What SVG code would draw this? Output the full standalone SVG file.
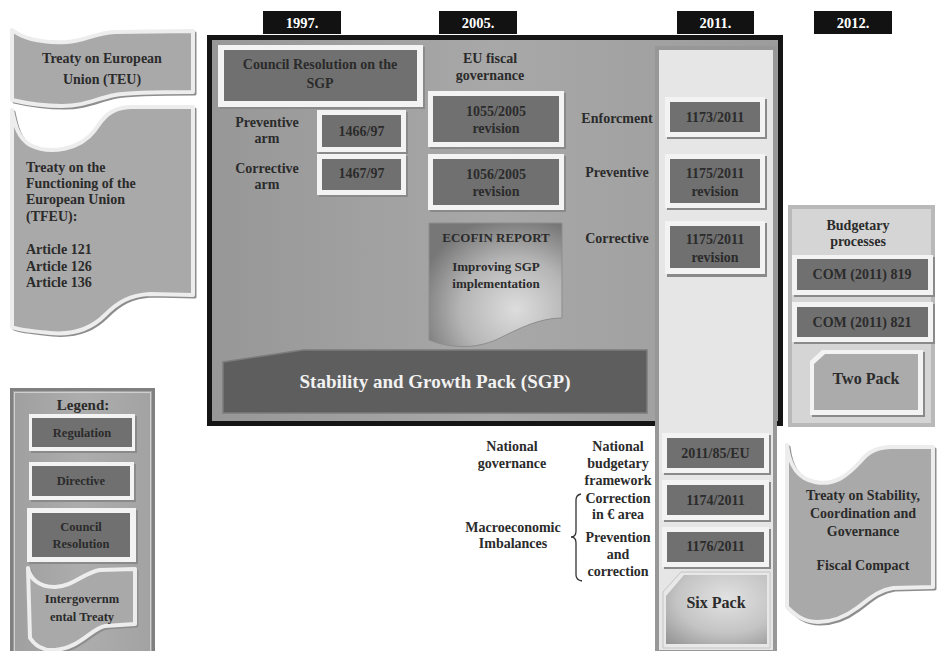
<svg xmlns="http://www.w3.org/2000/svg" width="937" height="651" viewBox="0 0 937 651">
<defs>
<style>
.t{font-family:"Liberation Serif","Times New Roman",serif;font-weight:bold;font-size:14px;fill:#2b2b2b;text-anchor:middle}
.tl{text-anchor:start}
.s13{font-size:13px}
.s12{font-size:12.5px}
.s16{font-size:16px}
.yr{font-family:"Liberation Serif","Times New Roman",serif;font-weight:bold;font-size:14.5px;fill:#ffffff;text-anchor:middle}
.yb{fill:#121212}
.sh{fill:#8a8a8a}
.wb{fill:#f3f3f3}
.in{fill:#707070}
.ban{fill:#a9a9a9;stroke:#ededed;stroke-width:4;stroke-linejoin:round}
.bansh{fill:none;stroke:#8e8e8e;stroke-width:3;stroke-linejoin:round}
</style>
<linearGradient id="gFrame" x1="0" y1="0" x2="1" y2="0">
<stop offset="0" stop-color="#979797"/>
<stop offset="0.5" stop-color="#a8a8a8"/>
<stop offset="1" stop-color="#9c9c9c"/>
</linearGradient>
<radialGradient id="gDoc" cx="0.65" cy="0.7" r="0.75">
<stop offset="0" stop-color="#dddddd"/>
<stop offset="0.55" stop-color="#b5b5b5"/>
<stop offset="1" stop-color="#777777"/>
</radialGradient>
<radialGradient id="gSix" cx="0.6" cy="0.35" r="0.9">
<stop offset="0" stop-color="#e2e2e2"/>
<stop offset="0.55" stop-color="#c4c4c4"/>
<stop offset="1" stop-color="#8f8f8f"/>
</radialGradient>
<linearGradient id="gLeg" x1="0" y1="0" x2="1" y2="0">
<stop offset="0" stop-color="#9f9f9f"/>
<stop offset="0.5" stop-color="#adadad"/>
<stop offset="1" stop-color="#a2a2a2"/>
</linearGradient>
</defs>
<rect width="937" height="651" fill="#ffffff"/>

<!-- year labels -->
<g id="year-1997"><rect class="yb" x="263" y="11" width="78" height="23"/><text class="yr" x="302" y="28">1997.</text></g>
<g id="year-2005"><rect class="yb" x="439" y="11" width="78" height="23"/><text class="yr" x="478" y="28">2005.</text></g>
<g id="year-2011"><rect class="yb" x="677" y="11" width="77" height="23"/><text class="yr" x="715.5" y="28">2011.</text></g>
<g id="year-2012"><rect class="yb" x="814" y="11" width="78" height="23"/><text class="yr" x="853" y="28">2012.</text></g>

<!-- left treaties -->
<g id="teu">
<path class="bansh" transform="translate(2,2)" d="M12,30 C25,40 45,43 67,42 C85,41 95,33 115,32 L193,31 L193,92 C170,92 130,92 115,95 C95,99 85,106 62,106 C40,106 25,103 12,100 Z"/>
<path class="ban" d="M12,30 C25,40 45,43 67,42 C85,41 95,33 115,32 L193,31 L193,92 C170,92 130,92 115,95 C95,99 85,106 62,106 C40,106 25,103 12,100 Z"/>
<text class="t" x="102" y="63">Treaty on European</text>
<text class="t" x="102" y="84">Union (TEU)</text>
</g>
<g id="tfeu">
<path class="bansh" transform="translate(2,2)" d="M12,110 C15,125 18,138 30,145 C50,155 80,150 95,130 C103,118 110,108 130,107 L193,107 L193,295 L150,294 C130,295 118,302 105,315 C90,330 70,335 50,333 C30,331 18,330 12,327 Z"/>
<path class="ban" d="M12,110 C15,125 18,138 30,145 C50,155 80,150 95,130 C103,118 110,108 130,107 L193,107 L193,295 L150,294 C130,295 118,302 105,315 C90,330 70,335 50,333 C30,331 18,330 12,327 Z"/>
<text class="t tl" x="26" y="172">Treaty on the</text>
<text class="t tl" x="26" y="188">Functioning of the</text>
<text class="t tl" x="26" y="204">European Union</text>
<text class="t tl" x="26" y="221">(TFEU):</text>
<text class="t tl" x="26" y="254">Article 121</text>
<text class="t tl" x="26" y="271">Article 126</text>
<text class="t tl" x="26" y="287">Article 136</text>
</g>

<!-- main frame -->
<g id="sgp-frame">
<rect x="209.5" y="37.5" width="571" height="386" fill="url(#gFrame)" stroke="#151515" stroke-width="5"/>
</g>

<!-- 2011 column -->
<g id="col-2011">
<rect x="657" y="48" width="118" height="604" fill="#e6e6e6" stroke="#979797" stroke-width="4"/>
</g>

<g id="council-resolution">
<rect class="sh" x="220" y="47" width="205" height="62"/>
<rect class="wb" x="218" y="45" width="205" height="62"/>
<rect class="in" x="224" y="50" width="193" height="51"/>
<text class="t" x="320" y="69">Council Resolution on the</text>
<text class="t" x="320" y="88">SGP</text>
</g>

<g id="lbl-preventive-arm"><text class="t" x="267" y="127">Preventive</text><text class="t" x="267" y="143">arm</text></g>
<g id="lbl-corrective-arm"><text class="t" x="267" y="173">Corrective</text><text class="t" x="267" y="189">arm</text></g>

<g id="r1466">
<rect class="sh" x="319" y="112" width="89" height="42"/>
<rect class="wb" x="317" y="110" width="89" height="42"/>
<rect class="in" x="322" y="115" width="79" height="32"/>
<text class="t" x="361.5" y="136">1466/97</text>
</g>
<g id="r1467">
<rect class="sh" x="319" y="156" width="89" height="41"/>
<rect class="wb" x="317" y="154" width="89" height="41"/>
<rect class="in" x="322" y="159" width="79" height="31"/>
<text class="t" x="361.5" y="178">1467/97</text>
</g>

<g id="lbl-eu-fiscal"><text class="t" x="490" y="63">EU fiscal</text><text class="t" x="490" y="80">governance</text></g>

<g id="r1055">
<rect class="sh" x="430" y="93" width="136" height="56"/>
<rect class="wb" x="428" y="91" width="136" height="56"/>
<rect class="in" x="433" y="96" width="126" height="46"/>
<text class="t" x="496" y="116">1055/2005</text>
<text class="t" x="496" y="133">revision</text>
</g>
<g id="r1056">
<rect class="sh" x="430" y="156" width="136" height="56"/>
<rect class="wb" x="428" y="154" width="136" height="56"/>
<rect class="in" x="433" y="159" width="126" height="46"/>
<text class="t" x="496" y="179">1056/2005</text>
<text class="t" x="496" y="196">revision</text>
</g>

<g id="ecofin">
<path d="M429,223 H562 V318 C540,318 520,328 500,338 C480,348 455,350 429,340 Z" fill="url(#gDoc)" stroke="#8d8d8d" stroke-width="1"/>
<text class="t s13" x="496" y="242">ECOFIN REPORT</text>
<text class="t s13" x="496" y="271">Improving SGP</text>
<text class="t s13" x="496" y="288">implementation</text>
</g>

<g id="sgp">
<path d="M223,362 L303,350 L647,350 L647,413 L223,413 Z" fill="#5e5e5e" stroke="#7c7c7c" stroke-width="1.5"/>
<text class="t" x="435" y="388" style="font-size:19px;fill:#f2f2f2">Stability and Growth Pack (SGP)</text>
</g>

<g id="lbl-enforcment"><text class="t" x="617" y="123">Enforcment</text></g>
<g id="lbl-preventive"><text class="t" x="617" y="177">Preventive</text></g>
<g id="lbl-corrective"><text class="t" x="617" y="243">Corrective</text></g>

<g id="r1173">
<rect class="sh" x="667" y="99" width="100" height="40"/>
<rect class="wb" x="665" y="97" width="100" height="40"/>
<rect class="in" x="670" y="102" width="90" height="30"/>
<text class="t" x="715" y="122">1173/2011</text>
</g>
<g id="r1175-prev">
<rect class="sh" x="667" y="156" width="100" height="54"/>
<rect class="wb" x="665" y="154" width="100" height="54"/>
<rect class="in" x="670" y="159" width="90" height="44"/>
<text class="t" x="715" y="178">1175/2011</text>
<text class="t" x="715" y="196">revision</text>
</g>
<g id="r1175-corr">
<rect class="sh" x="667" y="223" width="100" height="54"/>
<rect class="wb" x="665" y="221" width="100" height="53"/>
<rect class="in" x="670" y="226" width="90" height="42"/>
<text class="t" x="715" y="244">1175/2011</text>
<text class="t" x="715" y="262">revision</text>
</g>

<!-- budgetary processes / two pack -->
<g id="budgetary-panel">
<rect x="790" y="207" width="143" height="218" fill="#d5d5d5" stroke="#b9b9b9" stroke-width="4"/>
<text class="t" x="858" y="230">Budgetary</text>
<text class="t" x="858" y="246">processes</text>
</g>
<g id="com819">
<rect class="sh" x="794" y="257" width="141" height="40"/>
<rect class="wb" x="792" y="255" width="141" height="40"/>
<rect class="in" x="797" y="259" width="131" height="31"/>
<text class="t" x="862" y="279">COM (2011) 819</text>
</g>
<g id="com821">
<rect class="sh" x="794" y="304" width="141" height="40"/>
<rect class="wb" x="792" y="302" width="141" height="40"/>
<rect class="in" x="797" y="307" width="131" height="30"/>
<text class="t" x="862" y="327">COM (2011) 821</text>
</g>
<g id="two-pack">
<path class="sh" transform="translate(2,2)" d="M822,350 H923 V415 H810 V361 Z"/>
<path class="wb" d="M822,350 H923 V415 H810 V361 Z"/>
<path d="M825,354 H918 V410 H814 V364 Z" fill="#ababab"/>
<text class="t s16" x="866" y="384">Two Pack</text>
</g>

<!-- below the frame -->
<g id="lbl-national-gov"><text class="t" x="512" y="451">National</text><text class="t" x="512" y="468">governance</text></g>
<g id="lbl-national-budget"><text class="t" x="618" y="451">National</text><text class="t" x="618" y="468">budgetary</text><text class="t" x="618" y="485">framework</text></g>
<g id="lbl-correction"><text class="t" x="618" y="503">Correction</text><text class="t" x="618" y="519">in € area</text></g>
<g id="lbl-prevention"><text class="t" x="618" y="542">Prevention</text><text class="t" x="618" y="559">and</text><text class="t" x="618" y="576">correction</text></g>
<g id="lbl-macro"><text class="t" x="513" y="532">Macroeconomic</text><text class="t" x="513" y="548">Imbalances</text></g>

<g id="connectors">
<path d="M581,494 Q576,495 576,500 V531 Q576,537 571,537 Q576,537 576,543 V575 Q576,580 582,581" fill="none" stroke="#333333" stroke-width="1.3"/>
</g>

<g id="d2011-85">
<rect class="sh" x="664" y="435" width="107" height="40"/>
<rect class="wb" x="662" y="433" width="107" height="40"/>
<rect class="in" x="667" y="438" width="97" height="30"/>
<text class="t" x="715.5" y="458">2011/85/EU</text>
</g>
<g id="r1174">
<rect class="sh" x="664" y="482" width="107" height="40"/>
<rect class="wb" x="662" y="480" width="107" height="40"/>
<rect class="in" x="667" y="485" width="97" height="30"/>
<text class="t" x="715.5" y="505">1174/2011</text>
</g>
<g id="r1176">
<rect class="sh" x="664" y="529" width="107" height="40"/>
<rect class="wb" x="662" y="527" width="107" height="40"/>
<rect class="in" x="667" y="532" width="97" height="30"/>
<text class="t" x="715.5" y="551">1176/2011</text>
</g>
<g id="six-pack">
<path d="M681,572 H770 V648 H663 V592 Z" fill="#e8e8e8" stroke="#c4c4c4" stroke-width="1"/>
<path d="M684,575 H767 V644 H666 V596 Z" fill="url(#gSix)"/>
<text class="t s16" x="716" y="608">Six Pack</text>
</g>

<g id="tscg">
<path class="bansh" transform="translate(2,2)" d="M787,445 C789,462 795,478 815,482 C835,486 848,475 860,462 C868,452 875,448 890,447 L933,447 L933,587 L893,588 C878,590 868,600 857,608 C845,617 832,622 818,622 C803,622 794,614 787,607 Z"/>
<path class="ban" d="M787,445 C789,462 795,478 815,482 C835,486 848,475 860,462 C868,452 875,448 890,447 L933,447 L933,587 L893,588 C878,590 868,600 857,608 C845,617 832,622 818,622 C803,622 794,614 787,607 Z"/>
<text class="t" x="863" y="500">Treaty on Stability,</text>
<text class="t" x="863" y="518">Coordination and</text>
<text class="t" x="863" y="536">Governance</text>
<text class="t" x="863" y="570">Fiscal Compact</text>
</g>

<!-- legend -->
<g id="legend">
<rect x="11.5" y="389.5" width="142" height="264" fill="url(#gLeg)" stroke="#808080" stroke-width="3"/>
<rect x="14.5" y="392.5" width="136" height="260" fill="none" stroke="#cfcfcf" stroke-width="1"/>
<text class="t" x="83" y="410" style="font-size:15px">Legend:</text>
</g>
<g id="legend-regulation">
<rect class="sh" x="31" y="416" width="106" height="37"/>
<rect class="wb" x="29" y="414" width="106" height="37"/>
<rect class="in" x="32" y="418" width="100" height="29"/>
<text class="t s12" x="82" y="437">Regulation</text>
</g>
<g id="legend-directive">
<rect class="sh" x="31" y="464" width="105" height="38"/>
<rect class="wb" x="29" y="462" width="105" height="38"/>
<rect class="in" x="32" y="466" width="98" height="30"/>
<text class="t s12" x="81" y="485">Directive</text>
</g>
<g id="legend-council">
<rect class="sh" x="29" y="510" width="109" height="54"/>
<rect class="wb" x="27" y="508" width="109" height="54"/>
<rect class="in" x="32" y="513" width="98" height="44"/>
<text class="t s12" x="81" y="531">Council</text>
<text class="t s12" x="81" y="548">Resolution</text>
</g>
<g id="legend-treaty">
<path class="bansh" transform="translate(2,2)" d="M28,568 C30,578 38,587 55,587 C72,587 85,572 100,570 L135,569 L135,624 L105,626 C92,628 80,648 55,650 C42,651 34,644 30,638 Z"/>
<path class="ban" d="M28,568 C30,578 38,587 55,587 C72,587 85,572 100,570 L135,569 L135,624 L105,626 C92,628 80,648 55,650 C42,651 34,644 30,638 Z"/>
<text class="t s12" x="82" y="603">Intergovernm</text>
<text class="t s12" x="82" y="621">ental Treaty</text>
</g>
</svg>
